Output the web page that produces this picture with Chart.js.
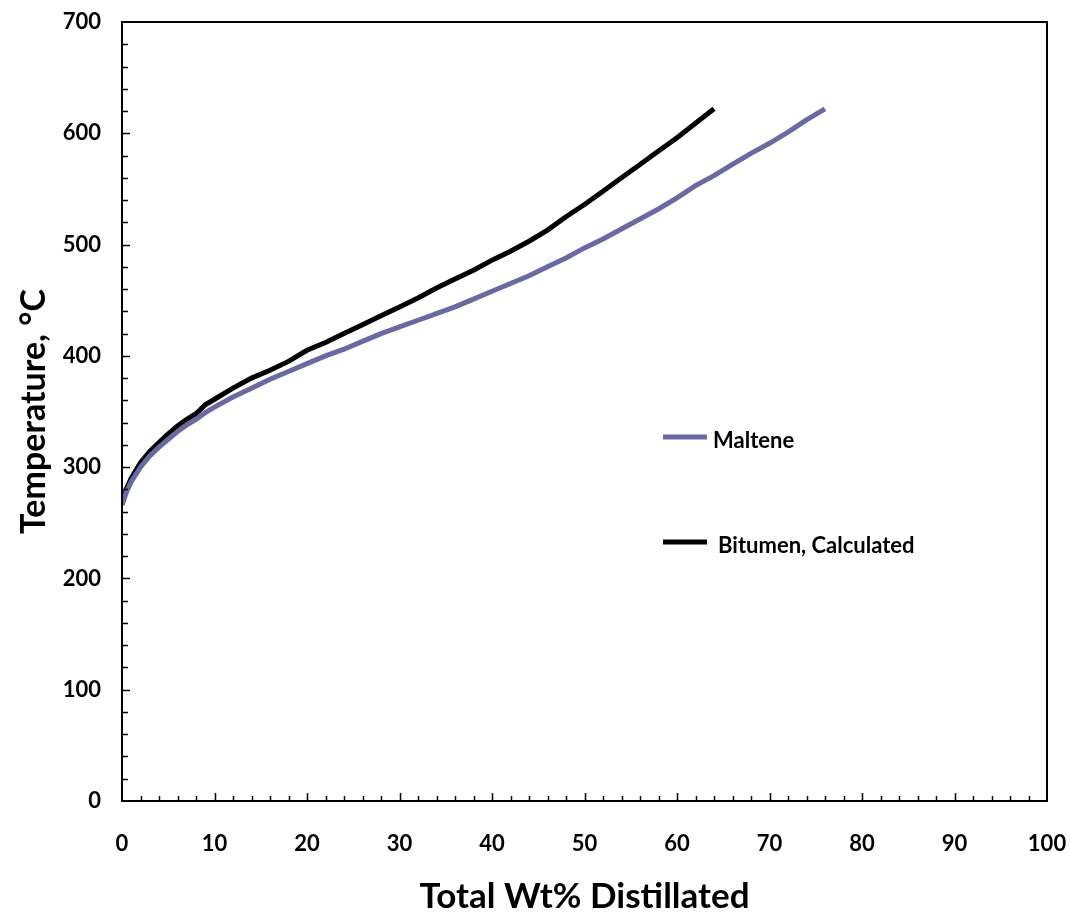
<!DOCTYPE html>
<html>
<head>
<meta charset="utf-8">
<script src="https://cdn.jsdelivr.net/npm/chart.js@4/dist/chart.umd.min.js"></script>
<style>
  html, body { margin: 0; padding: 0; background: #fff; }
  #wrap { width: 1070px; height: 918px; }
</style>
</head>
<body>
<div id="wrap"><canvas id="distChart" width="1070" height="918"></canvas></div>
<script>
// Courbes de distillation : % massique distillé -> température (°C)
let xBitumen = [0, 0.5, 1, 2, 3, 4, 5, 6, 7, 8, 9, 10, 12, 14, 16, 18, 20, 22, 24, 26, 28, 30,
                32, 34, 36, 38, 40, 42, 44, 46, 48, 50, 52, 54, 56, 58, 60, 62, 64];
let tBitumen = [267, 281, 290, 304, 314, 322, 330, 337, 343, 348, 356, 361, 371, 380, 387, 395, 405, 412, 420, 428, 436, 444,
                452, 461, 469, 477, 486, 494, 503, 513, 525, 536, 548, 560, 572, 584, 596, 609, 622];

let xMaltene = [0, 0.5, 1, 2, 3, 4, 5, 6, 7, 8, 9, 10, 12, 14, 16, 18, 20, 22, 24, 26, 28, 30,
                32, 34, 36, 38, 40, 42, 44, 46, 48, 50, 52, 54, 56, 58, 60, 62, 64, 66, 68, 70, 72, 74, 76];
let tMaltene = [266, 278, 287, 300, 310, 318, 325, 332, 338, 343, 349, 354, 363, 371, 379, 386, 393, 400, 406, 413, 420, 426,
                432, 438, 444, 451, 458, 465, 472, 480, 488, 497, 505, 514, 523, 532, 542, 553, 562, 572, 582, 591, 601, 612, 622];

let seriesNames = ['Maltene', 'Bitumen, Calculated'];
let seriesColors = ['#6a6aa2', '#000000'];

let xTicks = [0, 10, 20, 30, 40, 50, 60, 70, 80, 90, 100];
let yTicks = [0, 100, 200, 300, 400, 500, 600, 700];

let police = 'Lato, "Open Sans", sans-serif';

function toPoints(xs, ys) {
    return xs.map(function(x, i) {
        return { x: x, y: ys[i] };
    });
}

// Cadre + graduations tournées vers l'intérieur
let cadrePlugin = {
    id: 'cadre',
    afterDraw: function(chart) {
        let ctx = chart.ctx;
        let a = chart.chartArea;
        let sx = chart.scales.x;
        let sy = chart.scales.y;
        ctx.save();
        ctx.strokeStyle = '#000';
        ctx.lineWidth = 2;
        ctx.strokeRect(a.left, a.top, a.right - a.left, a.bottom - a.top);

        ctx.lineWidth = 1.5;
        ctx.beginPath();
        for (let v = 2; v < 100; v += 2) {
            let px = Math.round(sx.getPixelForValue(v)) + 0.5;
            let len = (v % 10 === 0) ? 8 : 5;
            ctx.moveTo(px, a.bottom);
            ctx.lineTo(px, a.bottom - len);
        }
        for (let v = 20; v < 700; v += 20) {
            let py = Math.round(sy.getPixelForValue(v)) + 0.5;
            let len = (v % 100 === 0) ? 8 : 6;
            ctx.moveTo(a.left, py);
            ctx.lineTo(a.left + len, py);
        }
        ctx.stroke();

        // légende
        let legende = [
            { x: 663, y: 437, tx: 713 },
            { x: 663, y: 542, tx: 718 }
        ];
        ctx.font = 'bold 22px ' + police;
        ctx.textBaseline = 'middle';
        ctx.fillStyle = '#000';
        legende.forEach(function(l, i) {
            ctx.strokeStyle = seriesColors[i];
            ctx.lineWidth = 5;
            ctx.beginPath();
            ctx.moveTo(l.x, l.y);
            ctx.lineTo(l.x + 44, l.y);
            ctx.stroke();
            ctx.fillText(seriesNames[i], l.tx, l.y + 4);
        });
        ctx.restore();
    }
};

let ctx1 = document.getElementById('distChart').getContext('2d');

new Chart(ctx1, {
    type: 'line',
    data: {
        datasets: [{
            label: seriesNames[0],
            data: toPoints(xMaltene, tMaltene),
            borderColor: seriesColors[0],
            borderWidth: 5,
            pointRadius: 0,
            tension: 0
        }, {
            label: seriesNames[1],
            data: toPoints(xBitumen, tBitumen),
            borderColor: seriesColors[1],
            borderWidth: 5,
            pointRadius: 0,
            tension: 0
        }]
    },
    plugins: [cadrePlugin],
    options: {
        responsive: false,
        animation: false,
        layout: { padding: { top: 22, right: 23, left: 0, bottom: 0 } },
        plugins: {
            legend: { display: false },
            tooltip: { enabled: false }
        },
        scales: {
            x: {
                type: 'linear',
                min: 0,
                max: 100,
                afterBuildTicks: function(scale) {
                    scale.ticks = xTicks.map(function(v) { return { value: v }; });
                },
                afterFit: function(scale) {
                    scale.height = 117;
                    scale.paddingLeft = 0;
                    scale.paddingRight = 0;
                },
                ticks: {
                    padding: 30,
                    color: '#000',
                    font: { family: police, size: 22, weight: 'bold' }
                },
                grid: { display: false, drawTicks: false },
                border: { display: false },
                title: {
                    display: true,
                    text: 'Total Wt% Distillated',
                    color: '#000',
                    font: { family: police, size: 35, weight: 'bold' },
                    padding: { top: 0, bottom: 0 }
                }
            },
            y: {
                type: 'linear',
                min: 0,
                max: 700,
                afterBuildTicks: function(scale) {
                    scale.ticks = yTicks.map(function(v) { return { value: v }; });
                },
                afterFit: function(scale) {
                    scale.width = 122;
                    scale.paddingTop = 0;
                    scale.paddingBottom = 0;
                },
                ticks: {
                    padding: 21,
                    color: '#000',
                    font: { family: police, size: 22, weight: 'bold' }
                },
                grid: { display: false, drawTicks: false },
                border: { display: false },
                title: {
                    display: true,
                    text: 'Temperature, °C',
                    color: '#000',
                    font: { family: police, size: 34, weight: 'bold' },
                    padding: { top: 14, bottom: 0 }
                }
            }
        }
    }
});
</script>
</body>
</html>
